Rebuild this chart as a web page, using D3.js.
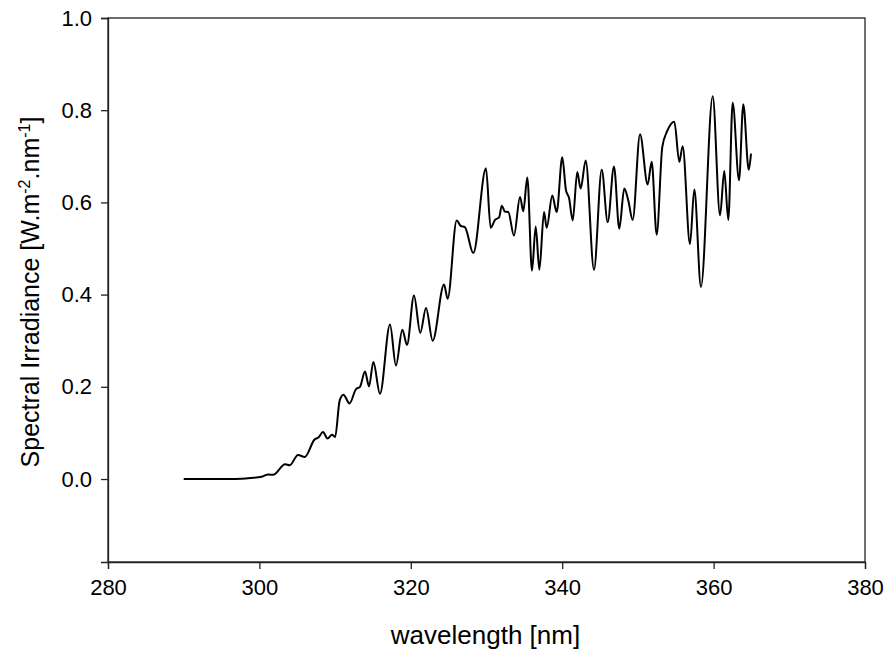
<!DOCTYPE html>
<html>
<head>
<meta charset="utf-8">
<script src="https://cdn.jsdelivr.net/npm/d3@7"></script>
<style>
  html, body { margin: 0; padding: 0; background: #fff; }
  text { font-family: "Liberation Sans", Arial, sans-serif; fill: #000; }
</style>
</head>
<body>
<svg id="chart" width="884" height="652"></svg>
<script>
// ---- data ----
const wavelength = [
  290.0, 296.8, 298.8, 300.3, 301.2, 301.8, 303.4, 304.0, 305.1, 306.0,
  307.3, 307.8, 308.4, 309.0, 309.6, 310.0, 310.6, 311.1, 311.9, 312.76,
  313.29, 313.95, 314.48, 315.05, 315.93, 317.25, 318.04, 318.88, 319.50, 320.42,
  321.25, 322.01, 322.89, 324.39, 324.87, 326.06, 326.59, 327.16, 328.26, 329.93,
  330.55, 331.12, 331.68, 332.01, 332.44, 332.88, 333.63, 334.43, 334.86, 335.39,
  336.01, 336.50, 336.98, 337.60, 337.95, 338.69, 339.27, 340.01, 340.50, 340.90,
  341.39, 341.99, 342.44, 343.10, 344.20, 345.22, 346.01, 346.84, 347.54, 348.20,
  348.73, 349.31, 350.28, 351.29, 351.82, 352.48, 353.22, 353.88, 354.81, 355.47,
  355.91, 356.88, 357.45, 358.33, 359.88, 360.85, 361.41, 361.94, 362.52, 363.36,
  363.92, 364.64, 364.94
];
const irradiance = [
  0.000, 0.000, 0.002, 0.005, 0.010, 0.009, 0.032, 0.030, 0.052, 0.048,
  0.086, 0.090, 0.102, 0.088, 0.096, 0.091, 0.170, 0.183, 0.164, 0.195,
  0.200, 0.233, 0.201, 0.254, 0.185, 0.335, 0.246, 0.324, 0.291, 0.398,
  0.317, 0.371, 0.300, 0.422, 0.391, 0.561, 0.549, 0.546, 0.490, 0.674,
  0.545, 0.562, 0.568, 0.593, 0.580, 0.579, 0.528, 0.612, 0.581, 0.654,
  0.452, 0.548, 0.454, 0.579, 0.545, 0.615, 0.579, 0.698, 0.626, 0.610,
  0.561, 0.666, 0.630, 0.691, 0.454, 0.671, 0.557, 0.678, 0.543, 0.630,
  0.604, 0.562, 0.748, 0.639, 0.688, 0.530, 0.720, 0.755, 0.775, 0.688,
  0.722, 0.510, 0.628, 0.417, 0.830, 0.572, 0.668, 0.562, 0.816, 0.648,
  0.813, 0.671, 0.706
];
const xTicks = [280, 300, 320, 340, 360, 380];
const yTicks = [0.0, 0.2, 0.4, 0.6, 0.8, 1.0];
const xDomain = [280, 380];
const yDomain = [-0.18, 1.0];
const xTitle = "wavelength [nm]";

// ---- layout ----
const L = 108, R = 865, T = 18, B = 562;
const svg = d3.select("#chart");
const x = d3.scaleLinear().domain(xDomain).range([L, R]);
const y = d3.scaleLinear().domain(yDomain).range([B, T]);

// frame
svg.append("rect")
  .attr("x", L).attr("y", T).attr("width", R - L).attr("height", B - T)
  .attr("fill", "none").attr("stroke", "#222").attr("stroke-width", 1.3);

// axes
const xAxis = d3.axisBottom(x).tickValues(xTicks).tickSize(7).tickPadding(10)
  .tickFormat(d3.format("d"));
const gx = svg.append("g").attr("transform", `translate(0,${B})`).call(xAxis);
const yAxis = d3.axisLeft(y).tickValues(yTicks).tickSize(7).tickPadding(9)
  .tickFormat(d3.format(".1f"));
const gy = svg.append("g").attr("transform", `translate(${L},0)`).call(yAxis);
[gx, gy].forEach(g => {
  g.attr("font-size", 22).attr("font-family", "'Liberation Sans', Arial, sans-serif");
  g.select(".domain").attr("stroke", "#222").attr("stroke-width", 1.3);
  g.selectAll(".tick line").attr("stroke", "#222").attr("stroke-width", 1.3);
  g.selectAll(".tick text").attr("fill", "#000");
});

// line
const line = d3.line()
  .x((d, i) => x(wavelength[i]))
  .y((d, i) => y(irradiance[i]))
  .curve(d3.curveMonotoneX);
svg.append("path")
  .datum(irradiance)
  .attr("d", line)
  .attr("fill", "none")
  .attr("stroke", "#000")
  .attr("stroke-width", 2)
  .attr("stroke-linejoin", "round");

// x title
svg.append("text")
  .attr("x", (L + R) / 2 - 1).attr("y", 644)
  .attr("text-anchor", "middle").attr("font-size", 26)
  .text(xTitle);

// y title with superscripts
const yt = svg.append("text")
  .attr("transform", `translate(39,${(T + B) / 2 + 2}) rotate(-90)`)
  .attr("text-anchor", "middle").attr("font-size", 25);
yt.append("tspan").text("Spectral Irradiance [W.m");
yt.append("tspan").attr("dy", -9).attr("font-size", 16).text("-2");
yt.append("tspan").attr("dy", 9).text(".nm");
yt.append("tspan").attr("dy", -9).attr("font-size", 16).text("-1");
yt.append("tspan").attr("dy", 9).text("]");
</script>
</body>
</html>
